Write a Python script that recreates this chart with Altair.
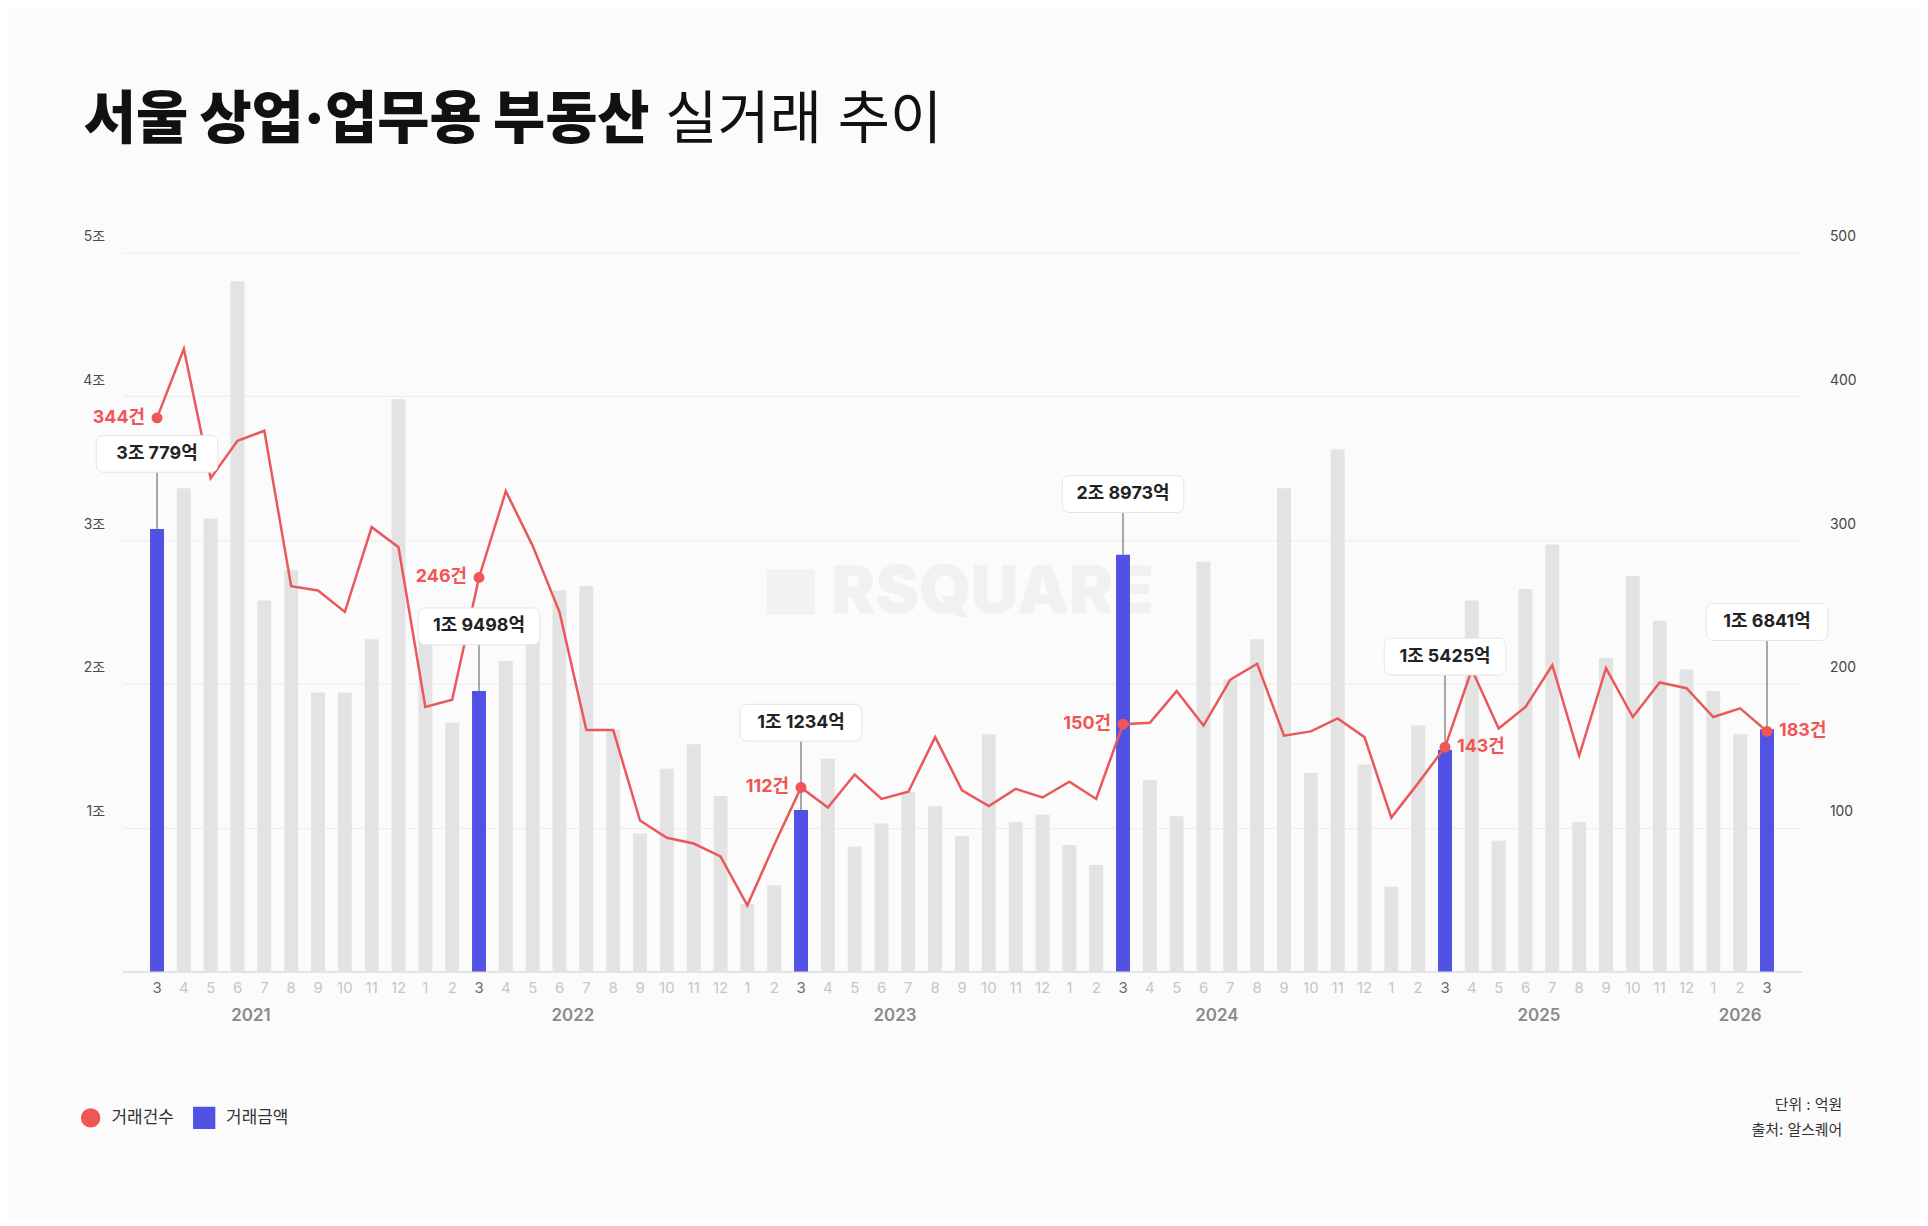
import altair as alt
import pandas as pd

FONT = "Inter, 'Noto Sans CJK KR', sans-serif"

# ---- data ----
start_year = 2021
start_month = 3
# 거래금액 (조 원), monthly, 2021-03 .. 2026-03
amount_2021 = [3.0779, 3.36, 3.15, 4.80, 2.58, 2.79, 1.94, 1.94, 2.31, 3.98]
amount_2022 = [2.30, 1.73, 1.9498, 2.16, 2.34, 2.65, 2.68, 1.68, 0.96, 1.41, 1.58, 1.22]
amount_2023 = [0.47, 0.60, 1.1234, 1.48, 0.87, 1.03, 1.25, 1.15, 0.94, 1.65, 1.04, 1.09]
amount_2024 = [0.88, 0.74, 2.8973, 1.33, 1.08, 2.85, 2.03, 2.31, 3.36, 1.38, 3.63, 1.44]
amount_2025 = [0.59, 1.71, 1.5425, 2.58, 0.91, 2.66, 2.97, 1.04, 2.18, 2.75, 2.44, 2.10]
amount_2026 = [1.95, 1.65, 1.6841]

# 거래건수 line, as plotted against the right axis
count_2021 = [385, 433, 343, 369, 376, 268, 265, 250, 309, 295]
count_2022 = [184, 189, 274, 334, 296, 250, 168, 168, 105, 93, 89, 80]
count_2023 = [46, 88, 128, 114, 137, 120, 125, 163, 126, 115, 127, 121]
count_2024 = [132, 120, 172, 173, 195, 171, 203, 214, 164, 167, 176, 163]
count_2025 = [107, 131, 156, 210, 169, 184, 213, 150, 211, 177, 201, 197]
count_2026 = [177, 183, 167]

# highlighted March values
hl_amount_eok = [30779, 19498, 11234, 28973, 15425, 16841]
hl_count_text = [344, 246, 112, 150, 143, 183]
hl_count_side = ["left", "left", "left", "left", "right", "right"]
hl_box_level = [3.60, 2.40, 1.73, 3.32, 2.19, 2.43]

left_ticks = [1, 2, 3, 4, 5]
right_ticks = [100, 200, 300, 400, 500]

amounts = amount_2021 + amount_2022 + amount_2023 + amount_2024 + amount_2025 + amount_2026
counts = count_2021 + count_2022 + count_2023 + count_2024 + count_2025 + count_2026

rows = []
for i, (a, c) in enumerate(zip(amounts, counts)):
    m0 = start_month - 1 + i
    month = m0 % 12 + 1
    rows.append({"idx": i, "year": start_year + m0 // 12, "month": month,
                 "month_label": str(month), "amount": a, "count": c,
                 "hl": 1 if month == 3 else 0})
df = pd.DataFrame(rows)

hl_idx = df.loc[df.hl == 1, "idx"].tolist()
hl_df = pd.DataFrame({
    "idx": hl_idx,
    "amount": [v / 10000 for v in hl_amount_eok],
    "box": hl_box_level,
    "label": [f"{v // 10000}조 {v % 10000}억" for v in hl_amount_eok],
    "count": [counts[i] for i in hl_idx],
    "count_label": [f"{v}건" for v in hl_count_text],
    "side": hl_count_side,
})

year_rows = []
for y, g in df.groupby("year"):
    jan_idx = (y - start_year) * 12 - (start_month - 1)
    pos = min(jan_idx + 5.5, g["idx"].mean())
    year_rows.append({"year": str(y), "pos": pos})
year_df = pd.DataFrame(year_rows)

one = pd.DataFrame({"k": [0]})

# ---- styling ----
W, H = 1686, 722
BLUE = "#5151E4"
GRAY = "#e3e3e3"
RED = "#F05656"
RED_LINE = "#E9585B"

xs = alt.Scale(domain=[-1.1, 61.1], nice=False, zero=False)
yL = alt.Scale(domain=[0, 5], nice=False)
yR = alt.Scale(domain=[0, 500], nice=False)

x_axis = alt.Axis(labels=False, ticks=False, grid=False, domainColor="#dcdcdc",
                  domainWidth=1.5, title=None)

bars = alt.Chart(df).mark_bar(size=14).encode(
    x=alt.X("idx:Q", scale=xs, axis=x_axis),
    y=alt.Y("amount:Q", scale=yL, axis=alt.Axis(
        values=left_ticks, labelExpr="datum.value + '조'", grid=True, gridColor="#ececec",
        domain=False, ticks=False, labelPadding=18, labelOffset=-16, labelFontSize=14,
        labelColor="#4a4a4a", title=None)),
    color=alt.condition("datum.hl == 1", alt.value(BLUE), alt.value(GRAY)),
)

month_labels = alt.Chart(df).mark_text(fontSize=15, baseline="middle").encode(
    x=alt.X("idx:Q", scale=xs),
    y=alt.value(H + 17),
    text="month_label:N",
    color=alt.condition("datum.hl == 1", alt.value("#6b6b6b"), alt.value("#c6c6c6")),
)

line = alt.Chart(df).mark_line(color=RED_LINE, strokeWidth=2.5).encode(
    x=alt.X("idx:Q", scale=xs),
    y=alt.Y("count:Q", scale=yR, axis=alt.Axis(
        orient="right", values=right_ticks, grid=False, domain=False, ticks=False,
        labelPadding=28, labelOffset=-16, labelFontSize=14, labelColor="#444444",
        labelAlign="left", title=None)),
)

rules = alt.Chart(hl_df).mark_rule(color="#555555", strokeWidth=1).encode(
    x=alt.X("idx:Q", scale=xs),
    y=alt.Y("amount:Q", scale=yL, axis=None),
    y2="box:Q",
)

boxes = alt.Chart(hl_df).mark_rect(width=122, height=37, cornerRadius=7, fill="white",
                                   stroke="#e4e4e4", strokeWidth=1).encode(
    x=alt.X("idx:Q", scale=xs),
    y=alt.Y("box:Q", scale=yL, axis=None),
)

box_text = alt.Chart(hl_df).mark_text(fontSize=18, fontWeight="bold", color="#222222",
                                      baseline="middle").encode(
    x=alt.X("idx:Q", scale=xs),
    y=alt.Y("box:Q", scale=yL, axis=None),
    text="label:N",
)

dots = alt.Chart(hl_df).mark_point(filled=True, size=120, color=RED, opacity=1).encode(
    x=alt.X("idx:Q", scale=xs),
    y=alt.Y("count:Q", scale=yR, axis=None),
)

lab_left = alt.Chart(hl_df).transform_filter("datum.side == 'left'").mark_text(
    align="right", dx=-12, baseline="middle", fontSize=18, fontWeight="bold", color=RED).encode(
    x=alt.X("idx:Q", scale=xs),
    y=alt.Y("count:Q", scale=yR, axis=None),
    text="count_label:N",
)
lab_right = alt.Chart(hl_df).transform_filter("datum.side == 'right'").mark_text(
    align="left", dx=12, baseline="middle", fontSize=18, fontWeight="bold", color=RED).encode(
    x=alt.X("idx:Q", scale=xs),
    y=alt.Y("count:Q", scale=yR, axis=None),
    text="count_label:N",
)

years = alt.Chart(year_df).mark_text(fontSize=17, fontWeight=600, color="#8a8a8a",
                                     baseline="middle").encode(
    x=alt.X("pos:Q", scale=xs),
    y=alt.value(H + 45),
    text="year:N",
)

# watermark
wm_logo = alt.Chart(one).mark_rect(color="#f2f2f2").encode(
    x=alt.value(647), x2=alt.value(695), y=alt.value(318), y2=alt.value(364))
wm_text = alt.Chart(one).mark_text(text="RSQUARE", align="left", baseline="middle",
                                   fontSize=66, fontWeight=900, color="#f1f1f1").encode(
    x=alt.value(712), y=alt.value(342))

# title
title_bold = alt.Chart(one).mark_text(text="서울 상업·업무용 부동산", align="left",
                                      baseline="alphabetic", fontSize=57, fontWeight=900,
                                      color="#111111").encode(x=alt.value(-39), y=alt.value(-115))
title_reg = alt.Chart(one).mark_text(text="실거래 추이", align="left", baseline="alphabetic",
                                     fontSize=57, fontWeight=400, color="#111111").encode(
    x=alt.value(545), y=alt.value(-115))

# legend
leg_dot = alt.Chart(one).mark_point(filled=True, shape="circle", size=380, color=RED,
                                    opacity=1).encode(x=alt.value(-32), y=alt.value(869))
leg_t1 = alt.Chart(one).mark_text(text="거래건수", align="left", baseline="middle", fontSize=17,
                                  color="#333333").encode(x=alt.value(-11), y=alt.value(869))
leg_sq = alt.Chart(one).mark_point(filled=True, shape="square", size=500, color=BLUE,
                                   opacity=1).encode(x=alt.value(82), y=alt.value(869))
leg_t2 = alt.Chart(one).mark_text(text="거래금액", align="left", baseline="middle", fontSize=17,
                                  color="#333333").encode(x=alt.value(104), y=alt.value(869))

# footer
foot1 = alt.Chart(one).mark_text(text="단위 : 억원", align="right", baseline="middle", fontSize=15,
                                 color="#333333").encode(x=alt.value(1727), y=alt.value(856))
foot2 = alt.Chart(one).mark_text(text="출처: 알스퀘어", align="right", baseline="middle", fontSize=15,
                                 color="#333333").encode(x=alt.value(1727), y=alt.value(881))

chart = alt.layer(
    wm_logo, wm_text, bars, month_labels, line, rules, boxes, box_text, dots, lab_left,
    lab_right, years, title_bold, title_reg, leg_dot, leg_t1, leg_sq, leg_t2, foot1, foot2,
).resolve_scale(y="independent").properties(
    width=W, height=H,
    autosize=alt.AutoSizeParams(type="none"),
    padding={"left": 115, "top": 243, "right": 119, "bottom": 245},
    background="#fbfbfb",
).configure(font=FONT).configure_view(stroke=None)

chart.save("out.html", embed_options={"renderer": "svg", "actions": False})
